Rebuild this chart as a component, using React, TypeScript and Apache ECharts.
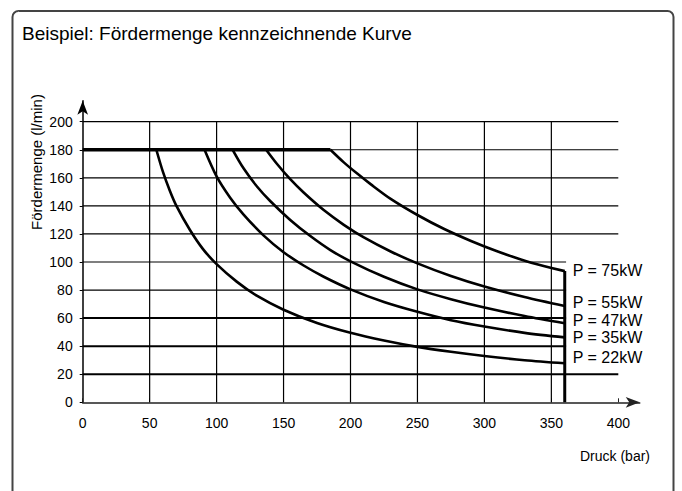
import React, { useEffect, useRef } from "react";
import * as echarts from "echarts";

// ---- data ----
const xTicks = [0, 50, 100, 150, 200, 250, 300, 350, 400];
const yTicks = [0, 20, 40, 60, 80, 100, 120, 140, 160, 180, 200];

const plateauQ = 180; // max flow (l/min)
const plateauEnd = 185; // bar, where the top line ends (75 kW curve starts)
const maxPressure = 360; // bar, pressure cut-off
const cutoffTopQ = 93.5; // l/min at the top of the cut-off line

const curve22 = [[55, 180], [60, 164], [65, 151], [70, 140], [80, 123], [90, 109], [100, 98.5], [115, 86], [130, 76], [150, 66], [175, 56.5], [200, 49.5], [225, 44], [250, 39.5], [275, 36], [300, 33], [330, 30], [360, 27.8]];
const curve35 = [[91, 180], [100, 161], [110, 146], [120, 134], [135, 119], [150, 107], [165, 97.5], [180, 89.5], [200, 80.5], [225, 71.5], [250, 64.5], [275, 58.5], [300, 54], [330, 49.5], [360, 46.3]];
const curve47 = [[112, 180], [120, 167], [130, 154], [140, 143.5], [155, 130], [170, 118.5], [185, 108.5], [200, 100.5], [225, 89.5], [250, 80.5], [275, 73.5], [300, 67.5], [330, 61.5], [360, 56.3]];
const curve55 = [[137, 180], [145, 170], [155, 159], [165, 149.5], [180, 137], [195, 126.5], [210, 117.5], [230, 107.5], [250, 99], [275, 90], [300, 82.5], [330, 75], [360, 68.6]];
const curve75 = [[185, 180], [195, 171], [205, 163], [215, 155.5], [230, 145], [250, 133.5], [270, 123.5], [290, 115], [310, 107.5], [335, 99.5], [360, 93.5]];

const curveLabels = ["P = 22kW", "P = 35kW", "P = 47kW", "P = 55kW", "P = 75kW"];

// horizontal grid lines and how far (bar) each one runs
const hGridValues = [20, 40, 60, 80, 100, 120, 140, 160, 180, 200];
const hGridEnds = [400, 361, 361, 361, 361, 400, 400, 400, 400, 400];
// vertical grid lines
const vGridValues = [50, 100, 150, 200, 250, 300, 350];
const vGridTop = 200;

const FONT = "'Liberation Sans', Arial, Helvetica, sans-serif";

export default function App() {
  const ref = useRef<HTMLDivElement>(null);

  useEffect(() => {
    if (!ref.current) return;
    const chart = echarts.init(ref.current, undefined, { renderer: "svg" });

    const series: any[] = [];

    hGridValues.forEach((v, i) => {
      series.push({
        type: "line",
        silent: true,
        symbol: "none",
        data: [[0, v], [hGridEnds[i], v]],
        lineStyle: { color: "#000", width: v <= 60 ? 2 : 1.2 },
        z: 1,
      });
    });
    vGridValues.forEach((v) => {
      series.push({
        type: "line",
        silent: true,
        symbol: "none",
        data: [[v, 0], [v, vGridTop]],
        lineStyle: { color: "#000", width: 1.2 },
        z: 1,
      });
    });

    // top flow limit
    series.push({
      type: "line",
      silent: true,
      symbol: "none",
      data: [[0, plateauQ], [plateauEnd, plateauQ]],
      lineStyle: { color: "#000", width: 3.5 },
      z: 3,
    });
    // pressure cut-off
    series.push({
      type: "line",
      silent: true,
      symbol: "none",
      data: [[maxPressure, 0], [maxPressure, cutoffTopQ]],
      lineStyle: { color: "#000", width: 3 },
      z: 3,
    });

    const curves = [curve22, curve35, curve47, curve55, curve75];
    const labelOffsets = [-6, 0, -3, -4, -1];
    curves.forEach((c, i) => {
      series.push({
        type: "line",
        name: curveLabels[i],
        silent: true,
        symbol: "none",
        smooth: 0.3,
        data: c,
        lineStyle: { color: "#000", width: 2.6 },
        endLabel: {
          show: true,
          formatter: curveLabels[i],
          color: "#000",
          fontFamily: FONT,
          fontSize: 16,
          distance: 8,
          offset: [0, labelOffsets[i]],
        },
        z: 4,
      });
    });

    chart.setOption({
      animation: false,
      backgroundColor: "#fff",
      grid: { left: 82.7, right: 682 - (82.7 + 416 * 1.339), top: 402.3 - 215 * 1.403, bottom: 491 - 402.3 },
      xAxis: {
        type: "value",
        min: 0,
        max: 416,
        interval: 50,
        axisLine: {
          show: true,
          symbol: ["none", "arrow"],
          symbolSize: [8, 14],
          lineStyle: { color: "#222", width: 1.5 },
        },
        axisTick: { show: true, inside: true, length: 4, customValues: xTicks, lineStyle: { color: "#222" } },
        axisLabel: {
          customValues: xTicks,
          color: "#000",
          fontFamily: FONT,
          fontSize: 14,
          margin: 14,
        },
        splitLine: { show: false },
      },
      yAxis: {
        type: "value",
        min: 0,
        max: 215,
        interval: 20,
        axisLine: {
          show: true,
          symbol: ["none", "arrow"],
          symbolSize: [8, 14],
          lineStyle: { color: "#000", width: 1.5 },
        },
        axisTick: { show: true, length: 3, customValues: yTicks, lineStyle: { color: "#000" } },
        axisLabel: {
          customValues: yTicks,
          color: "#000",
          fontFamily: FONT,
          fontSize: 14,
          margin: 10,
        },
        splitLine: { show: false },
      },
      graphic: [
        {
          type: "rect",
          shape: { x: 12.5, y: 11, width: 661, height: 530, r: 6 },
          style: { fill: "none", stroke: "#444", lineWidth: 2 },
          silent: true,
        },
        {
          type: "text",
          x: 22,
          y: 33,
          style: {
            text: "Beispiel: Fördermenge kennzeichnende Kurve",
            fill: "#000",
            font: `19px ${FONT}`,
            textVerticalAlign: "middle",
          },
        },
        {
          type: "text",
          x: 36,
          y: 162,
          rotation: Math.PI / 2,
          style: {
            text: "Fördermenge (l/min)",
            fill: "#000",
            font: `15px ${FONT}`,
            textAlign: "center",
            textVerticalAlign: "middle",
          },
        },
        {
          type: "text",
          x: 650,
          y: 456,
          style: {
            text: "Druck (bar)",
            fill: "#000",
            font: `14px ${FONT}`,
            textAlign: "right",
            textVerticalAlign: "middle",
          },
        },
      ],
      series,
    });

    return () => chart.dispose();
  }, []);

  return (
    <div
      ref={ref}
      style={{ position: "fixed", left: 0, top: 0, width: 682, height: 491 }}
    />
  );
}
